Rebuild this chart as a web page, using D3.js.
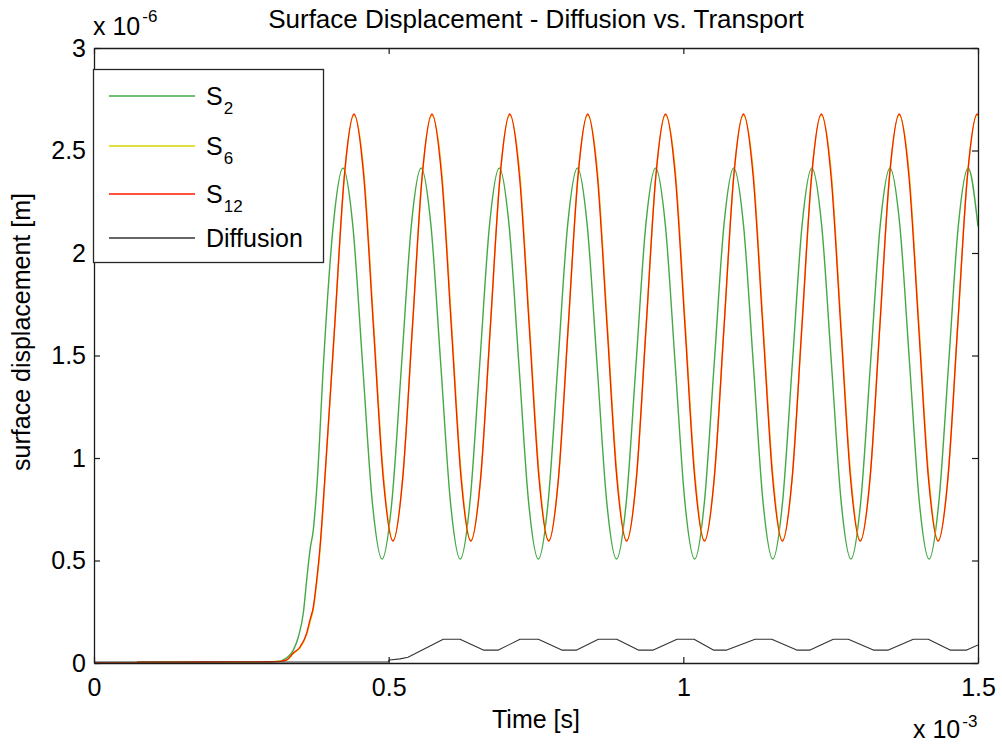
<!DOCTYPE html>
<html>
<head>
<meta charset="utf-8">
<script src="https://cdn.jsdelivr.net/npm/d3@7"></script>
<style>
  html, body { margin: 0; padding: 0; background: #fff; }
  svg { display: block; }
  text { font-family: "Liberation Sans", Arial, sans-serif; fill: #000; }
</style>
</head>
<body>
<svg id="chart" width="1002" height="753"></svg>
<script>
// ---------- data (time in ms, i.e. x 10^-3 s; displacement in x 10^-6 m) ----------
const chartTitle = "Surface Displacement - Diffusion vs. Transport";
const xLabel = "Time [s]";
const yLabel = "surface displacement [m]";
const xTicks = [0, 0.5, 1, 1.5];
const xTickLabels = ["0", "0.5", "1", "1.5"];
const yTicks = [0, 0.5, 1, 1.5, 2, 2.5, 3];
const yTickLabels = ["0", "0.5", "1", "1.5", "2", "2.5", "3"];
const xExponent = "-3";
const yExponent = "-6";

const seriesNames = ["S", "S", "S", "Diffusion"];
const seriesSubs = ["2", "6", "12", ""];

const tS2 = [0, 0.072, 0.074, 0.300, 0.3156, 0.3212, 0.3382, 0.3467, 0.3552, 0.3609, 0.3665, 0.3721, 0.3789, 0.3894, 0.4060,
  0.4225, 0.4391, 0.4557, 0.4722, 0.4888, 0.5054, 0.5220, 0.5385,
  0.5551, 0.5717, 0.5883, 0.6048, 0.6214, 0.6380, 0.6546, 0.6711,
  0.6877, 0.7043, 0.7209, 0.7374, 0.7540, 0.7706, 0.7872, 0.8037,
  0.8203, 0.8369, 0.8535, 0.8700, 0.8866, 0.9032, 0.9198, 0.9363,
  0.9529, 0.9695, 0.9861, 1.0026, 1.0192, 1.0358, 1.0524, 1.0689,
  1.0855, 1.1021, 1.1187, 1.1352, 1.1518, 1.1684, 1.1850, 1.2015,
  1.2181, 1.2347, 1.2513, 1.2678, 1.2844, 1.3010, 1.3176, 1.3341,
  1.3507, 1.3673, 1.3839, 1.4004, 1.4170, 1.4336, 1.4502, 1.4667,
  1.4833, 1.5];
const vS2 = [0, 0, 0.004, 0.006, 0.008, 0.015, 0.063, 0.127, 0.244, 0.405, 0.551, 0.649, 0.893, 1.461, 2.136,
  2.415, 2.136, 1.461, 0.786, 0.507, 0.786, 1.461, 2.136,
  2.415, 2.136, 1.461, 0.786, 0.507, 0.786, 1.461, 2.136,
  2.415, 2.136, 1.461, 0.786, 0.507, 0.786, 1.461, 2.136,
  2.415, 2.136, 1.461, 0.786, 0.507, 0.786, 1.461, 2.136,
  2.415, 2.136, 1.461, 0.786, 0.507, 0.786, 1.461, 2.136,
  2.415, 2.136, 1.461, 0.786, 0.507, 0.786, 1.461, 2.136,
  2.415, 2.136, 1.461, 0.786, 0.507, 0.786, 1.461, 2.136,
  2.415, 2.136, 1.461, 0.786, 0.507, 0.786, 1.461, 2.136,
  2.415, 2.13];

const tS12 = [0, 0.072, 0.074, 0.300, 0.3156, 0.3270, 0.3382, 0.3496, 0.3609, 0.3665, 0.3721, 0.3779, 0.3835, 0.3917, 0.4082, 0.4247,
  0.4412, 0.4577, 0.4742, 0.4908, 0.5073, 0.5238, 0.5403, 0.5568,
  0.5734, 0.5899, 0.6064, 0.6229, 0.6394, 0.6560, 0.6725, 0.6890,
  0.7055, 0.7220, 0.7386, 0.7551, 0.7716, 0.7881, 0.8046, 0.8212,
  0.8377, 0.8542, 0.8707, 0.8872, 0.9038, 0.9203, 0.9368, 0.9533,
  0.9698, 0.9864, 1.0029, 1.0194, 1.0359, 1.0524, 1.0690, 1.0855,
  1.1020, 1.1185, 1.1350, 1.1516, 1.1681, 1.1846, 1.2011, 1.2176,
  1.2342, 1.2507, 1.2672, 1.2837, 1.3002, 1.3168, 1.3333, 1.3498,
  1.3663, 1.3828, 1.3994, 1.4159, 1.4324, 1.4489, 1.4654, 1.4820,
  1.4985, 1.5];
const vS12 = [0, 0, 0.004, 0.006, 0.008, 0.015, 0.049, 0.078, 0.146, 0.210, 0.273, 0.405, 0.566, 0.900, 1.637, 2.373,
  2.678, 2.373, 1.637, 0.900, 0.595, 0.900, 1.637, 2.373,
  2.678, 2.373, 1.637, 0.900, 0.595, 0.900, 1.637, 2.373,
  2.678, 2.373, 1.637, 0.900, 0.595, 0.900, 1.637, 2.373,
  2.678, 2.373, 1.637, 0.900, 0.595, 0.900, 1.637, 2.373,
  2.678, 2.373, 1.637, 0.900, 0.595, 0.900, 1.637, 2.373,
  2.678, 2.373, 1.637, 0.900, 0.595, 0.900, 1.637, 2.373,
  2.678, 2.373, 1.637, 0.900, 0.595, 0.900, 1.637, 2.373,
  2.678, 2.373, 1.637, 0.900, 0.595, 0.900, 1.637, 2.373,
  2.678, 2.676];

const tS6 = tS12;
const vS6 = [0, 0, 0.004, 0.006, 0.008, 0.014, 0.046, 0.074, 0.140, 0.200, 0.262, 0.392, 0.550, 0.890, 1.630, 2.368,
  2.672, 2.400, 1.667, 0.925, 0.598, 0.900, 1.637, 2.373,
  2.672, 2.400, 1.667, 0.925, 0.598, 0.900, 1.637, 2.373,
  2.672, 2.400, 1.667, 0.925, 0.598, 0.900, 1.637, 2.373,
  2.672, 2.400, 1.667, 0.925, 0.598, 0.900, 1.637, 2.373,
  2.672, 2.400, 1.667, 0.925, 0.598, 0.900, 1.637, 2.373,
  2.672, 2.400, 1.667, 0.925, 0.598, 0.900, 1.637, 2.373,
  2.672, 2.400, 1.667, 0.925, 0.598, 0.900, 1.637, 2.373,
  2.672, 2.400, 1.667, 0.925, 0.598, 0.900, 1.637, 2.373,
  2.672, 2.670];

const tDiff = [0, 0.4989, 0.5014, 0.5193, 0.5328, 0.5927, 0.6211, 0.6606, 0.6861, 0.7229, 0.7540, 0.7937, 0.8191,
  0.8558, 0.8870, 0.9236, 0.9491, 0.9893, 1.0182, 1.0509, 1.0737, 1.1217, 1.1500, 1.1924, 1.2150,
  1.2545, 1.2800, 1.3224, 1.3479, 1.3903, 1.4157, 1.4526, 1.4809, 1.5];
const vDiff = [0.005, 0.005, 0.015, 0.020, 0.028, 0.116, 0.116, 0.063, 0.063, 0.116, 0.116, 0.063, 0.063,
  0.116, 0.116, 0.063, 0.063, 0.116, 0.116, 0.063, 0.063, 0.116, 0.116, 0.063, 0.063,
  0.116, 0.116, 0.063, 0.063, 0.116, 0.116, 0.063, 0.063, 0.088];

const seriesColors = ["#45a845", "#d4d400", "#ff1a00", "#333333"];

// ---------- layout ----------
const W = 1002, H = 753;
const plot = { left: 94, right: 978, top: 48, bottom: 663 };
const FONT = 25;

const svg = d3.select("#chart");
svg.append("rect").attr("width", W).attr("height", H).attr("fill", "#fff");

const x = d3.scaleLinear().domain([0, 1.5]).range([plot.left, plot.right]);
const y = d3.scaleLinear().domain([0, 3]).range([plot.bottom, plot.top]);

svg.append("defs").append("clipPath").attr("id", "clip")
  .append("rect").attr("x", plot.left).attr("y", plot.top)
  .attr("width", plot.right - plot.left).attr("height", plot.bottom - plot.top);

// ---------- series ----------
const series = [
  { t: tS2, v: vS2, color: seriesColors[0], curve: d3.curveMonotoneX, w: 1.4 },
  { t: tS6, v: vS6, color: seriesColors[1], curve: d3.curveMonotoneX, w: 1.5 },
  { t: tS12, v: vS12, color: seriesColors[2], curve: d3.curveMonotoneX, w: 1.3 },
  { t: tDiff, v: vDiff, color: seriesColors[3], curve: d3.curveLinear, w: 1.1 }
];

const gLines = svg.append("g").attr("clip-path", "url(#clip)");
series.forEach(s => {
  const pts = s.t.map((t, i) => [t, s.v[i]]);
  const line = d3.line().x(d => x(d[0])).y(d => y(d[1])).curve(s.curve);
  gLines.append("path").datum(pts)
    .attr("d", line).attr("fill", "none")
    .attr("stroke", s.color).attr("stroke-width", s.w)
    .attr("stroke-linejoin", "round");
});

// ---------- axes ----------
const TICK = 6;
function styleAxis(g) {
  g.selectAll(".domain").attr("stroke", "#1a1a1a").attr("stroke-width", 1.3);
  g.selectAll(".tick line").attr("stroke", "#1a1a1a").attr("stroke-width", 1.2);
  g.selectAll("text").attr("font-size", FONT).attr("font-family", "Liberation Sans, Arial, sans-serif").attr("fill", "#000");
}
const xAxis = d3.axisBottom(x).tickValues(xTicks)
  .tickFormat((d, i) => xTickLabels[i]).tickSizeInner(-TICK).tickSizeOuter(0).tickPadding(15);
const gx = svg.append("g").attr("transform", `translate(0,${plot.bottom})`).call(xAxis);
gx.selectAll("text").attr("dy", "0.71em");
styleAxis(gx);

const yAxis = d3.axisLeft(y).tickValues(yTicks)
  .tickFormat((d, i) => yTickLabels[i]).tickSizeInner(-TICK).tickSizeOuter(0).tickPadding(8);
const gy = svg.append("g").attr("transform", `translate(${plot.left},0)`).call(yAxis);
styleAxis(gy);

const xAxisTop = d3.axisTop(x).tickValues(xTicks).tickFormat("").tickSizeInner(-TICK).tickSizeOuter(0);
const gxt = svg.append("g").attr("transform", `translate(0,${plot.top})`).call(xAxisTop);
styleAxis(gxt);

const yAxisRight = d3.axisRight(y).tickValues(yTicks).tickFormat("").tickSizeInner(-TICK).tickSizeOuter(0);
const gyr = svg.append("g").attr("transform", `translate(${plot.right},0)`).call(yAxisRight);
styleAxis(gyr);

// ---------- exponent labels ----------
const expTop = svg.append("text").attr("x", 93).attr("y", 35).attr("font-size", FONT);
expTop.append("tspan").text("x 10");
expTop.append("tspan").attr("dx", 2).attr("dy", -13).attr("font-size", 17).text(yExponent);

const expBot = svg.append("text").attr("x", 913).attr("y", 738).attr("font-size", FONT);
expBot.append("tspan").text("x 10");
expBot.append("tspan").attr("dx", 2).attr("dy", -11).attr("font-size", 17).text(xExponent);

// ---------- titles ----------
svg.append("text").attr("x", (plot.left + plot.right) / 2).attr("y", 28)
  .attr("text-anchor", "middle").attr("font-size", 26).text(chartTitle);
svg.append("text").attr("x", (plot.left + plot.right) / 2).attr("y", 728)
  .attr("text-anchor", "middle").attr("font-size", FONT).text(xLabel);
svg.append("text").attr("transform", `translate(30,332) rotate(-90)`)
  .attr("text-anchor", "middle").attr("font-size", FONT).text(yLabel);

// ---------- legend ----------
const leg = svg.append("g");
leg.append("rect").attr("x", 93.5).attr("y", 69.5).attr("width", 230).attr("height", 193)
  .attr("fill", "#fff").attr("stroke", "#262626").attr("stroke-width", 1.3);
const legRows = [96, 146, 194, 238];
seriesNames.forEach((name, i) => {
  leg.append("line").attr("x1", 109).attr("x2", 195).attr("y1", legRows[i]).attr("y2", legRows[i])
    .attr("stroke", seriesColors[i]).attr("stroke-width", 1.4);
  const tx = leg.append("text").attr("x", 206).attr("y", legRows[i] + 9).attr("font-size", FONT);
  tx.append("tspan").text(name);
  if (seriesSubs[i]) {
    tx.append("tspan").attr("dx", 1).attr("dy", 9).attr("font-size", 17).text(seriesSubs[i]);
  }
});
</script>
</body>
</html>
